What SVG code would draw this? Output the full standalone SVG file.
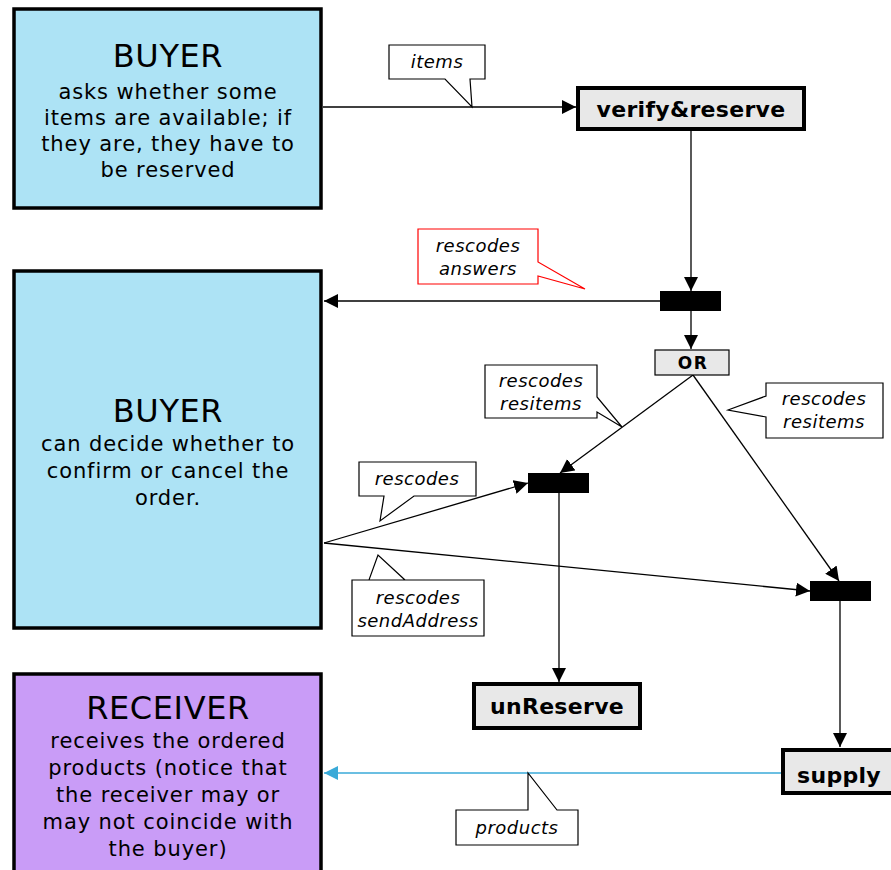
<svg xmlns="http://www.w3.org/2000/svg" width="891" height="870" viewBox="0 0 891 870">
  <style>
    .actor { stroke: #000; stroke-width: 3.5; }
    .buyer { fill: #ADE3F5; }
    .recv { fill: #C99CF7; }
    .task { fill: #E8E8E8; stroke: #000; stroke-width: 4; }
    .bar { fill: #000; }
    .or { fill: #E8E8E8; stroke: #000; stroke-width: 1.2; }
    .title { font-family: "DejaVu Sans", Verdana, sans-serif; font-size: 32px; letter-spacing: 0.6px; text-anchor: middle; }
    .desc { font-family: "DejaVu Sans", Verdana, sans-serif; font-size: 21px; letter-spacing: 0.9px; text-anchor: middle; }
    .tname { font-family: "DejaVu Sans", Verdana, sans-serif; font-size: 22px; font-weight: bold; letter-spacing: 0.3px; text-anchor: middle; }
    .orl { font-family: "DejaVu Sans", Verdana, sans-serif; font-size: 17px; font-weight: bold; letter-spacing: 1.5px; text-anchor: middle; }
    .note { fill: #fff; stroke: #000; stroke-width: 1.2; }
    .note-red { fill: #fff; stroke: #FF0000; stroke-width: 1.2; }
    .nt { font-family: "DejaVu Sans", Verdana, sans-serif; font-size: 18px; font-style: italic; letter-spacing: 0.5px; text-anchor: middle; }
    .flow { fill: none; stroke: #000; stroke-width: 1.3; }
    .flow-blue { fill: none; stroke: #3AAAD8; stroke-width: 1.6; }
  </style>
  <defs>
    <marker id="arr" viewBox="0 0 10 10" refX="10" refY="5" markerWidth="14" markerHeight="14" markerUnits="userSpaceOnUse" orient="auto">
      <path d="M0,0 L10,5 L0,10 z" fill="#000"/>
    </marker>
    <marker id="arrBlue" viewBox="0 0 10 10" refX="10" refY="5" markerWidth="14" markerHeight="14" markerUnits="userSpaceOnUse" orient="auto">
      <path d="M0,0 L10,5 L0,10 z" fill="#3AAAD8"/>
    </marker>
  </defs>

  <!-- connectors -->
  <g id="connectors">
    <line class="flow" x1="323" y1="107" x2="576" y2="107" marker-end="url(#arr)"/>
    <line class="flow" x1="691" y1="130" x2="691" y2="291" marker-end="url(#arr)"/>
    <line class="flow" x1="660" y1="301" x2="324" y2="301" marker-end="url(#arr)"/>
    <line class="flow" x1="691" y1="311" x2="691" y2="349" marker-end="url(#arr)"/>
    <line class="flow" x1="693" y1="375" x2="560" y2="473" marker-end="url(#arr)"/>
    <line class="flow" x1="693" y1="375" x2="839" y2="581" marker-end="url(#arr)"/>
    <line class="flow" x1="324" y1="543" x2="528" y2="483" marker-end="url(#arr)"/>
    <line class="flow" x1="324" y1="543" x2="810" y2="591" marker-end="url(#arr)"/>
    <line class="flow" x1="559" y1="493" x2="559" y2="682" marker-end="url(#arr)"/>
    <line class="flow" x1="840" y1="601" x2="840" y2="747" marker-end="url(#arr)"/>
    <line class="flow-blue" x1="782" y1="773" x2="324" y2="773" marker-end="url(#arrBlue)"/>
  </g>

  <!-- connector labels -->
  <g id="label-items">
    <path class="note" d="M389,45 H485 V79 H470 L472,107 L445,79 H389 Z"/>
    <text class="nt" x="437" y="68">items</text>
  </g>
  <g id="label-answers">
    <path class="note-red" d="M418,229 H538 V262 L585,289 L538,276 V284 H418 Z"/>
    <text class="nt" x="478" y="252">rescodes</text>
    <text class="nt" x="478" y="275">answers</text>
  </g>
  <g id="label-resitems-left">
    <path class="note" d="M485,365 H597 V397 L622,427 L597,412 V418 H485 Z"/>
    <text class="nt" x="541" y="387">rescodes</text>
    <text class="nt" x="541" y="410">resitems</text>
  </g>
  <g id="label-resitems-right">
    <path class="note" d="M766,383 H883 V438 H766 V417 L728,410 L766,396 Z"/>
    <text class="nt" x="824" y="405">rescodes</text>
    <text class="nt" x="824" y="428">resitems</text>
  </g>
  <g id="label-rescodes">
    <path class="note" d="M359,462 H476 V496 H414 L380,521 L384,496 H359 Z"/>
    <text class="nt" x="417" y="485">rescodes</text>
  </g>
  <g id="label-sendaddress">
    <path class="note" d="M352,580 H484 V636 H352 V580 H369 L378,555 L405,580 Z"/>
    <text class="nt" x="418" y="604">rescodes</text>
    <text class="nt" x="418" y="627">sendAddress</text>
  </g>
  <g id="label-products">
    <path class="note" d="M456,810 H528 V773 L557,810 H578 V845 H456 Z"/>
    <text class="nt" x="517" y="834">products</text>
  </g>

  <!-- actors -->
  <g id="buyer-ask">
    <rect class="actor buyer" x="14" y="9" width="307" height="199"/>
    <text class="title" x="168" y="67">BUYER</text>
    <text class="desc" x="168" y="99">asks whether some</text>
    <text class="desc" x="168" y="125">items are available; if</text>
    <text class="desc" x="168" y="151">they are, they have to</text>
    <text class="desc" x="168" y="177">be reserved</text>
  </g>
  <g id="buyer-decide">
    <rect class="actor buyer" x="14" y="271" width="307" height="357"/>
    <text class="title" x="168" y="422">BUYER</text>
    <text class="desc" x="168" y="451">can decide whether to</text>
    <text class="desc" x="168" y="478">confirm or cancel the</text>
    <text class="desc" x="168" y="505">order.</text>
  </g>
  <g id="receiver">
    <rect class="actor recv" x="14" y="674" width="307" height="210"/>
    <text class="title" x="168" y="719">RECEIVER</text>
    <text class="desc" x="168" y="748">receives the ordered</text>
    <text class="desc" x="168" y="775">products (notice that</text>
    <text class="desc" x="168" y="802">the receiver may or</text>
    <text class="desc" x="168" y="829">may not coincide with</text>
    <text class="desc" x="168" y="856">the buyer)</text>
  </g>

  <!-- tasks -->
  <g id="verify-reserve">
    <rect class="task" x="578" y="88" width="226" height="41"/>
    <text class="tname" x="691" y="117">verify&amp;reserve</text>
  </g>
  <g id="unreserve">
    <rect class="task" x="474" y="684" width="166" height="44"/>
    <text class="tname" x="557" y="714">unReserve</text>
  </g>
  <g id="supply">
    <rect class="task" x="783" y="750" width="112" height="43"/>
    <text class="tname" x="839" y="783">supply</text>
  </g>

  <!-- gateways -->
  <g id="split-answers"><rect class="bar" x="660" y="291" width="61" height="20"/></g>
  <g id="or-gate">
    <rect class="or" x="655" y="350" width="74" height="25"/>
    <text class="orl" x="693" y="369">OR</text>
  </g>
  <g id="join-unreserve"><rect class="bar" x="528" y="473" width="61" height="20"/></g>
  <g id="join-supply"><rect class="bar" x="810" y="581" width="61" height="20"/></g>
</svg>
